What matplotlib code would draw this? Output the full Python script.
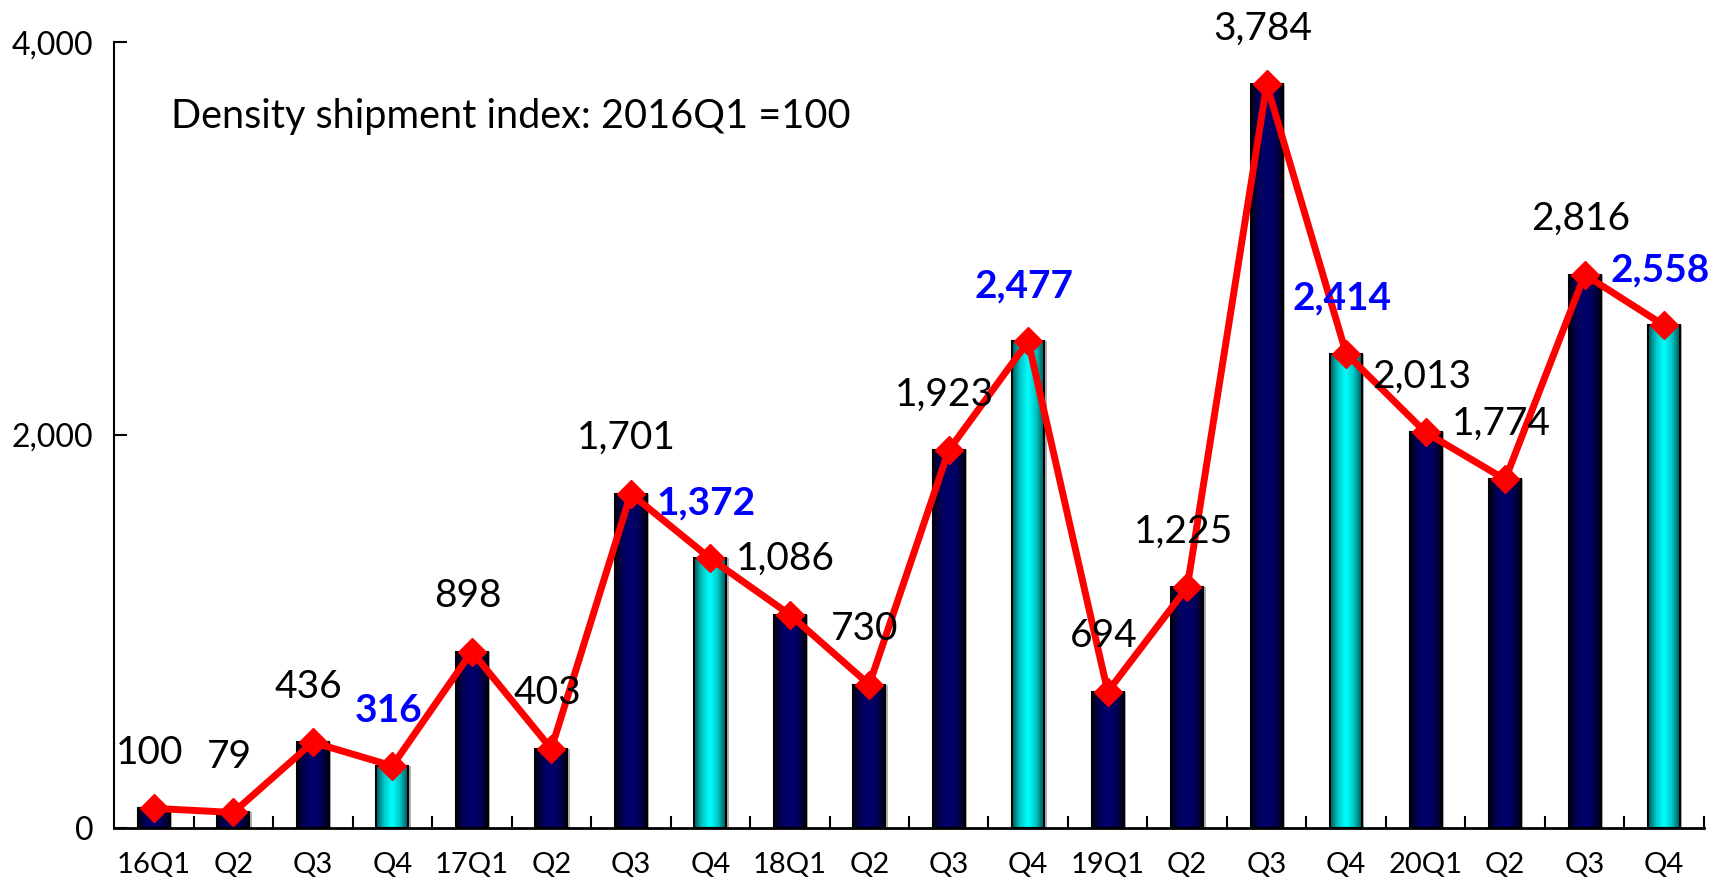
import numpy as np
import matplotlib
matplotlib.use("Agg")
import matplotlib.pyplot as plt
from matplotlib.colors import LinearSegmentedColormap
from matplotlib.ticker import FuncFormatter

plt.rcParams['font.family'] = ['Lato', 'DejaVu Sans']

# quarterly density shipment index, 2016Q1 = 100
quarters = ["16Q1", "Q2", "Q3", "Q4", "17Q1", "Q2", "Q3", "Q4", "18Q1", "Q2",
            "Q3", "Q4", "19Q1", "Q2", "Q3", "Q4", "20Q1", "Q2", "Q3", "Q4"]
index_vals = [100, 79, 436, 316, 898, 403, 1701, 1372, 1086, 730,
              1923, 2477, 694, 1225, 3784, 2414, 2013, 1774, 2816, 2558]
is_q4 = [q == "Q4" for q in quarters]

fig = plt.figure(figsize=(17.13, 8.85), dpi=100)
ax = fig.add_axes([0.0666, 0.0644, 0.9281, 0.8881])

x = np.arange(len(quarters))
w = 0.40

navy_cmap = LinearSegmentedColormap.from_list("navy", ["#000018", "#00005a", "#00006e", "#00005a", "#000018"])
cyan_cmap = LinearSegmentedColormap.from_list("cyan", ["#005a5a", "#00c8c8", "#00ffff", "#00c8c8", "#005a5a"])
grad = np.linspace(0, 1, 64).reshape(1, -1)

# grey side shadow, gradient fill, black outline
ax.bar(x + 0.03, index_vals, width=w, color="#b0b0b0", zorder=1)
for xi, v, q4 in zip(x, index_vals, is_q4):
    ax.imshow(grad, extent=(xi - w / 2, xi + w / 2, 0, v), aspect="auto",
              cmap=cyan_cmap if q4 else navy_cmap, zorder=2, interpolation="bicubic")
ax.bar(x, index_vals, width=w, fill=False, edgecolor="black", linewidth=1.5, zorder=3)

ax.plot(x, index_vals, color="#ff0000", linewidth=5, marker="D", markersize=14,
        markeredgecolor="#ff0000", zorder=5, clip_on=False)

for xi, v, q4 in zip(x, index_vals, is_q4):
    ax.annotate(f"{v:,}", (xi, v), xytext=(-3, 40), textcoords="offset points",
                ha="center", va="center", fontsize=28,
                color="#0000ff" if q4 else "black",
                fontweight="bold" if q4 else "normal",
                annotation_clip=False, zorder=6)

ax.text(0.036, 0.905, "Density shipment index: 2016Q1 =100", transform=ax.transAxes,
        fontsize=28.5, ha="left", va="center")

ax.set_xlim(-0.5, len(quarters) - 0.5)
ax.set_ylim(0, 4000)
ax.set_yticks([0, 2000, 4000])
ax.yaxis.set_major_formatter(FuncFormatter(lambda v, p: f"{int(v):,}"))
ax.tick_params(axis="y", direction="in", length=9, width=1.5, labelsize=23, pad=15)

ax.set_xticks(x)
ax.set_xticklabels(quarters)
ax.set_xticks(np.arange(0.5, len(quarters)), minor=True)
ax.tick_params(axis="x", which="major", length=0, labelsize=21, pad=17)
ax.tick_params(axis="x", which="minor", direction="in", length=9, width=1.5)

for s in ["top", "right"]:
    ax.spines[s].set_visible(False)
ax.spines["left"].set_linewidth(1.5)
ax.spines["bottom"].set_linewidth(2)

fig.savefig("out.png", dpi=100)
